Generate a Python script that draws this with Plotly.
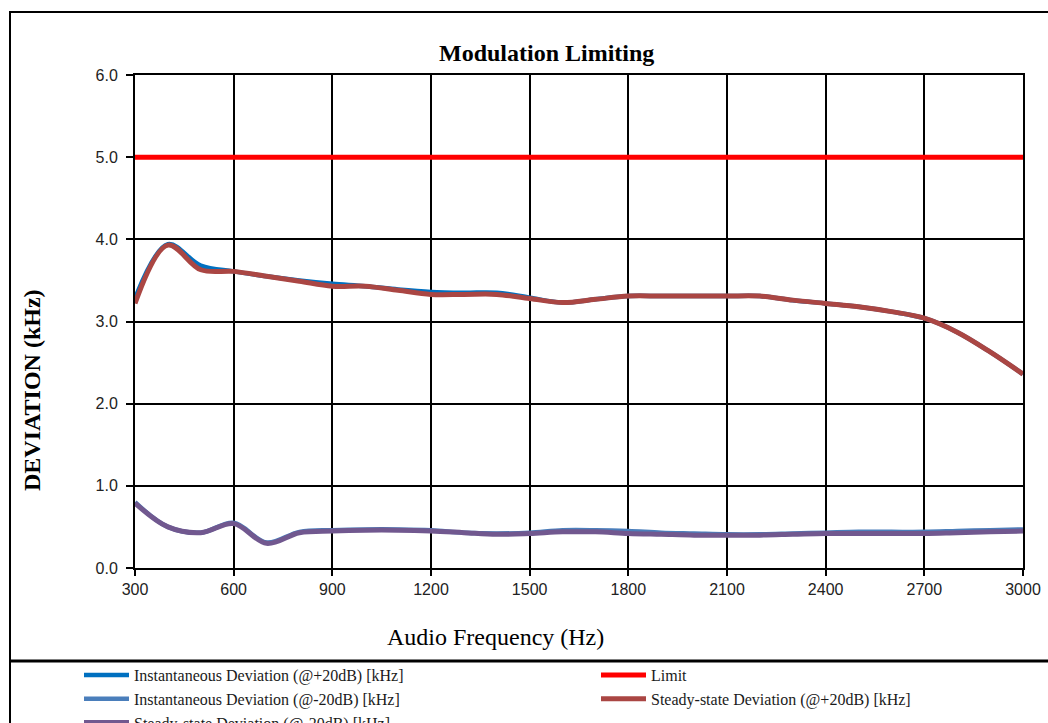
import plotly.graph_objects as go

freq_hz = [300, 400, 500, 600, 700, 800, 900, 1000, 1100, 1200, 1300, 1400, 1500, 1600,
           1700, 1800, 1900, 2000, 2100, 2200, 2300, 2400, 2500, 2600, 2700, 2800, 2900, 3000]

inst_plus20 = [3.28, 3.94, 3.68, 3.61, 3.55, 3.50, 3.46, 3.43, 3.39, 3.36, 3.35, 3.35, 3.29, 3.23,
               3.27, 3.31, 3.31, 3.31, 3.31, 3.31, 3.26, 3.22, 3.18, 3.12, 3.04, 2.87, 2.63, 2.36]
inst_minus20 = [0.80, 0.50, 0.43, 0.55, 0.31, 0.44, 0.46, 0.47, 0.47, 0.46, 0.43, 0.42, 0.43, 0.46,
                0.46, 0.45, 0.43, 0.42, 0.41, 0.41, 0.42, 0.43, 0.44, 0.44, 0.44, 0.45, 0.46, 0.47]
steady_plus20 = [3.22, 3.93, 3.63, 3.61, 3.55, 3.49, 3.43, 3.43, 3.38, 3.33, 3.33, 3.33, 3.28, 3.23,
                 3.27, 3.31, 3.31, 3.31, 3.31, 3.31, 3.26, 3.22, 3.18, 3.12, 3.04, 2.87, 2.63, 2.36]
steady_minus20 = [0.79, 0.50, 0.43, 0.54, 0.30, 0.43, 0.45, 0.46, 0.46, 0.45, 0.43, 0.41, 0.42, 0.44,
                  0.44, 0.42, 0.41, 0.40, 0.40, 0.40, 0.41, 0.42, 0.42, 0.42, 0.42, 0.43, 0.44, 0.45]
limit_freq = [300, 3000]
limit_khz = [5.0, 5.0]

x_ticks = [300, 600, 900, 1200, 1500, 1800, 2100, 2400, 2700, 3000]
y_ticks = [0, 1, 2, 3, 4, 5, 6]

SERIF = "Liberation Serif, Times New Roman, serif"
SANS = "Liberation Sans, Arial, sans-serif"

fig = go.Figure()
fig.add_trace(go.Scatter(x=freq_hz, y=inst_plus20, mode="lines", legend="legend",
                         name="Instantaneous Deviation (@+20dB) [kHz]",
                         line=dict(color="#0070C0", width=4.5, shape="spline", smoothing=1.0)))
fig.add_trace(go.Scatter(x=limit_freq, y=limit_khz, mode="lines", name="Limit", legend="legend2",
                         line=dict(color="#FF0000", width=5)))
fig.add_trace(go.Scatter(x=freq_hz, y=inst_minus20, mode="lines", legend="legend",
                         name="Instantaneous Deviation (@-20dB) [kHz]",
                         line=dict(color="#4A7EBB", width=4.5, shape="spline", smoothing=1.0)))
fig.add_trace(go.Scatter(x=freq_hz, y=steady_plus20, mode="lines", legend="legend2",
                         name="Steady-state Deviation (@+20dB) [kHz]",
                         line=dict(color="#AA4643", width=5, shape="spline", smoothing=1.0)))
fig.add_trace(go.Scatter(x=freq_hz, y=steady_minus20, mode="lines", legend="legend",
                         name="Steady-state Deviation (@-20dB) [kHz]",
                         line=dict(color="#71588F", width=5, shape="spline", smoothing=1.0)))

PL, PR, PT, PB = 135, 1023, 75, 568
W, H = 1048, 723


def px(xp):
    return (xp - PL) / (PR - PL)


def py(yp):
    return (PB - yp) / (PB - PT)


legend_common = dict(orientation="v", xanchor="left", yanchor="top", itemwidth=45,
                     font=dict(family=SERIF, size=16, color="#1a1a1a"),
                     bgcolor="rgba(0,0,0,0)", tracegroupgap=0)

fig.update_layout(
    width=W, height=H,
    margin=dict(l=PL, r=W - PR, t=PT, b=H - PB, autoexpand=False),
    paper_bgcolor="white", plot_bgcolor="white",
    showlegend=True,
    legend=dict(x=px(79), y=py(658), **legend_common),
    legend2=dict(x=px(596), y=py(658), **legend_common),
    xaxis=dict(range=[300, 3000], tickvals=x_ticks, showgrid=True, gridcolor="black", gridwidth=2,
               showline=True, linecolor="black", linewidth=2, mirror=True,
               ticks="outside", ticklen=6, tickwidth=2, tickcolor="black",
               tickfont=dict(family=SANS, size=16, color="#222"), zeroline=False),
    yaxis=dict(range=[0, 6], tickvals=y_ticks, tickformat=".1f", showgrid=True, gridcolor="black",
               gridwidth=2, showline=True, linecolor="black", linewidth=2, mirror=True,
               ticks="outside", ticklen=7, tickwidth=2, tickcolor="black", ticklabelstandoff=5,
               tickfont=dict(family=SANS, size=16, color="#222"), zeroline=False),
    annotations=[
        dict(text="<b>Modulation Limiting</b>", x=px(546), y=py(53), xref="paper", yref="paper",
             showarrow=False, font=dict(family=SERIF, size=24, color="black"),
             xanchor="center", yanchor="middle"),
        dict(text="Audio Frequency (Hz)", x=px(495), y=py(637), xref="paper", yref="paper",
             showarrow=False, font=dict(family=SERIF, size=24, color="black"),
             xanchor="center", yanchor="middle"),
        dict(text="<b>DEVIATION (kHz)</b>", x=px(32), y=py(390), xref="paper", yref="paper",
             showarrow=False, textangle=-90, font=dict(family=SERIF, size=24, color="black"),
             xanchor="center", yanchor="middle"),
    ],
    shapes=[
        dict(type="rect", xref="paper", yref="paper", x0=px(10), x1=px(1070), y0=py(740), y1=py(12),
             line=dict(color="black", width=2), layer="below"),
        dict(type="line", xref="paper", yref="paper", x0=px(10), x1=px(1070), y0=py(661), y1=py(661),
             line=dict(color="black", width=3)),
    ],
)

fig.write_html("out.html", config={"displayModeBar": False},
               post_script="document.body.style.margin='0';document.body.style.overflow='hidden';")
